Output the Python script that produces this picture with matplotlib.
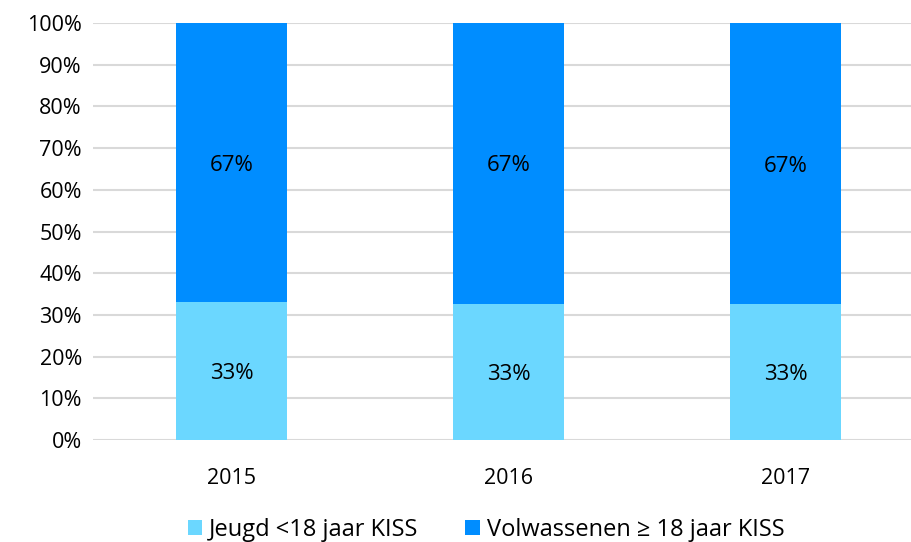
import matplotlib.pyplot as plt
import numpy as np

plt.rcParams['font.family'] = ['Open Sans', 'DejaVu Sans']

years = ['2015', '2016', '2017']
jeugd = [33.0, 32.7, 32.5]
volwassenen = [67.0, 67.3, 67.5]
jeugd_labels = ['33%', '33%', '33%']
volw_labels = ['67%', '67%', '67%']

c_jeugd = '#6BD7FF'
c_volw = '#008DFF'

fig = plt.figure(figsize=(9.11, 5.42), dpi=100)
ax = fig.add_axes([93 / 911, 1 - 440 / 542, (911 - 93) / 911, (440 - 23) / 542])

x = np.arange(len(years))
b1 = ax.bar(x, jeugd, width=0.4, color=c_jeugd, label='Jeugd <18 jaar KISS', zorder=3)
b2 = ax.bar(x, volwassenen, width=0.4, bottom=jeugd, color=c_volw,
            label='Volwassenen ≥ 18 jaar KISS', zorder=3)

# percentage labels in the middle of each segment
for i in range(len(years)):
    ax.text(x[i], jeugd[i] / 2, jeugd_labels[i], ha='center', va='center_baseline',
            fontsize=16, color='#000000', zorder=4)
    ax.text(x[i], jeugd[i] + volwassenen[i] / 2, volw_labels[i], ha='center', va='center_baseline',
            fontsize=16, color='#000000', zorder=4)

ax.set_ylim(0, 100)
ax.set_xlim(-0.5, 2.453)
ax.set_yticks(np.arange(0, 101, 10))
ax.set_yticklabels([f'{v}%' for v in range(0, 101, 10)], fontsize=15.5)
ax.set_xticks(x)
ax.set_xticklabels(years, fontsize=15.5)
ax.yaxis.grid(True, color='#d9d9d9', linewidth=1.5, zorder=0)
ax.tick_params(axis='y', length=0, pad=8)
ax.tick_params(axis='x', length=0, pad=20)
for s in ax.spines.values():
    s.set_visible(False)

fig.legend(handles=[b1, b2], loc='center', bbox_to_anchor=(486 / 911, 1 - 530 / 542), ncol=2,
           frameon=False, fontsize=17, handlelength=0.6, handleheight=0.6,
           handletextpad=0.3, columnspacing=2.0)

fig.savefig('out.png', dpi=100)
